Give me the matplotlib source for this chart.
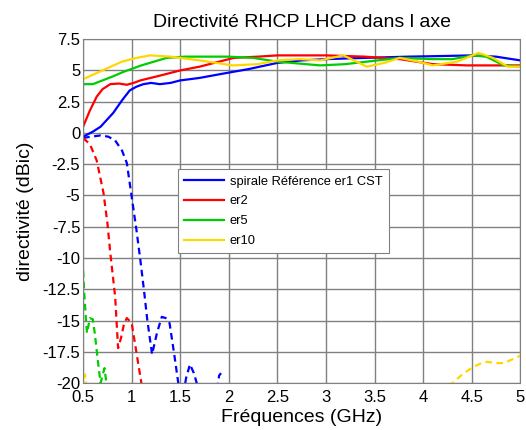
import matplotlib
matplotlib.use('Agg')
import matplotlib.pyplot as plt

plt.rcParams['font.family'] = ['Liberation Sans', 'DejaVu Sans']

# solid curves (RHCP)
f_blue = [0.5, 0.6, 0.68, 0.81, 0.9, 0.98, 1.05, 1.12, 1.2, 1.29, 1.4, 1.5, 1.7, 1.91, 2.2, 2.5, 2.75, 3.0, 3.4, 3.85, 4.2, 4.5, 4.75, 5.0]
d_blue = [-0.3, 0.1, 0.5, 1.6, 2.6, 3.4, 3.7, 3.9, 4.0, 3.9, 4.0, 4.2, 4.4, 4.7, 5.1, 5.6, 5.8, 5.9, 6.0, 6.1, 6.15, 6.2, 6.1, 5.8]

f_red = [0.5, 0.57, 0.64, 0.7, 0.78, 0.87, 0.95, 1.02, 1.09, 1.3, 1.5, 1.7, 1.9, 2.05, 2.3, 2.5, 3.0, 3.4, 3.76, 4.1, 4.45, 5.0]
d_red = [0.5, 1.8, 2.9, 3.5, 3.9, 3.95, 3.85, 4.0, 4.2, 4.6, 5.0, 5.3, 5.7, 6.0, 6.1, 6.2, 6.2, 6.1, 5.9, 5.5, 5.4, 5.4]

f_green = [0.5, 0.6, 0.7, 0.8, 0.92, 1.1, 1.36, 1.55, 2.0, 2.25, 2.5, 2.94, 3.2, 3.42, 3.76, 4.1, 4.3, 4.52, 4.65, 4.83, 5.0]
d_green = [3.9, 3.9, 4.2, 4.5, 4.9, 5.4, 6.0, 6.1, 6.1, 6.0, 5.7, 5.4, 5.5, 5.7, 6.0, 5.9, 5.9, 6.2, 6.1, 5.4, 5.3]

f_yellow = [0.5, 0.7, 0.9, 1.05, 1.19, 1.4, 1.7, 2.04, 2.3, 2.5, 2.73, 2.94, 3.18, 3.42, 3.6, 3.76, 3.95, 4.1, 4.35, 4.57, 4.72, 4.87, 5.0]
d_yellow = [4.3, 5.0, 5.7, 6.0, 6.2, 6.1, 5.8, 5.4, 5.5, 5.8, 5.9, 5.8, 6.2, 5.3, 5.6, 6.0, 5.7, 5.4, 5.7, 6.4, 6.0, 5.3, 5.3]

# dashed curves (LHCP)
fx_blue = [0.5, 0.58, 0.68, 0.76, 0.83, 0.9, 0.95, 1.0, 1.05, 1.09, 1.13, 1.16, 1.21, 1.26, 1.31, 1.35, 1.39, 1.44, 1.48, 1.52, 1.56, 1.6, 1.64, 1.67, 1.72]
dx_blue = [-0.4, -0.3, -0.2, -0.3, -0.6, -1.4, -2.4, -5.1, -7.8, -10.2, -12.8, -14.9, -17.7, -16.0, -14.7, -14.8, -15.2, -17.8, -20.0, -21.5, -19.6, -18.5, -19.2, -20.0, -21.5]
fx_blue2 = [1.88, 1.9, 1.92]
dx_blue2 = [-20.5, -19.4, -19.2]

fx_red = [0.5, 0.57, 0.64, 0.71, 0.75, 0.78, 0.83, 0.86, 0.89, 0.92, 0.95, 1.0, 1.05, 1.1, 1.15]
dx_red = [-0.4, -0.9, -2.2, -4.8, -7.2, -9.6, -13.1, -17.2, -16.4, -15.3, -14.8, -15.2, -17.6, -20.0, -22.0]

fx_green = [0.5, 0.51, 0.53, 0.54, 0.57, 0.6, 0.62, 0.65, 0.68, 0.7, 0.72, 0.74, 0.76]
dx_green = [-11.0, -12.6, -15.0, -16.0, -14.8, -14.9, -16.0, -18.1, -20.0, -19.4, -18.8, -20.0, -21.5]

fx_yellow = [0.5, 0.52, 0.54]
dx_yellow = [-20.5, -19.3, -20.5]
fx_yellow2 = [4.2, 4.3, 4.42, 4.52, 4.6, 4.66, 4.75, 4.83, 4.92, 5.0]
dx_yellow2 = [-21.0, -20.0, -19.2, -18.7, -18.4, -18.3, -18.4, -18.4, -18.1, -17.8]

BLUE = '#0000ff'
RED = '#ff0000'
GREEN = '#00cc00'
YELLOW = '#ffd700'
dash = (0, (3, 2))

fig = plt.figure(figsize=(5.26, 4.30), dpi=100)
ax = fig.add_axes([0.158, 0.109, 0.831, 0.800])

lw = 1.6
ax.plot(f_blue, d_blue, color=BLUE, lw=lw, label='spirale Référence er1 CST')
ax.plot(f_red, d_red, color=RED, lw=lw, label='er2')
ax.plot(f_green, d_green, color=GREEN, lw=lw, label='er5')
ax.plot(f_yellow, d_yellow, color=YELLOW, lw=lw, label='er10')

ax.plot(fx_blue, dx_blue, color=BLUE, lw=lw, ls=dash)
ax.plot(fx_blue2, dx_blue2, color=BLUE, lw=lw, ls=dash)
ax.plot(fx_red, dx_red, color=RED, lw=lw, ls=dash)
ax.plot(fx_green, dx_green, color=GREEN, lw=lw, ls=dash)
ax.plot(fx_yellow, dx_yellow, color=YELLOW, lw=lw, ls=dash)
ax.plot(fx_yellow2, dx_yellow2, color=YELLOW, lw=lw, ls=dash)

ax.set_xlim(0.5, 5)
ax.set_ylim(-20, 7.5)
xt = [0.5, 1, 1.5, 2, 2.5, 3, 3.5, 4, 4.5, 5]
yt = [-20, -17.5, -15, -12.5, -10, -7.5, -5, -2.5, 0, 2.5, 5, 7.5]
ax.set_xticks(xt)
ax.set_xticklabels(['0.5', '1', '1.5', '2', '2.5', '3', '3.5', '4', '4.5', '5'])
ax.set_yticks(yt)
ax.set_yticklabels(['-20', '-17.5', '-15', '-12.5', '-10', '-7.5', '-5', '-2.5', '0', '2.5', '5', '7.5'])
ax.tick_params(labelsize=12, length=0)
ax.tick_params(axis='x', pad=5)
ax.tick_params(axis='y', pad=2)
ax.grid(True, color='#808080', lw=1)
for s in ax.spines.values():
    s.set_color('#808080')

ax.set_title('Directivité RHCP LHCP dans l axe', fontsize=14, pad=9)
ax.set_xlabel('Fréquences (GHz)', fontsize=14, labelpad=3)
ax.set_ylabel('directivité (dBic)', fontsize=14, labelpad=6)

leg = ax.legend(loc='upper left', bbox_to_anchor=(0.217, 0.622), borderaxespad=0,
                prop={'size': 9.3}, fancybox=False, framealpha=1, edgecolor='#808080',
                handlelength=3.1, borderpad=0.5, labelspacing=0.6, handletextpad=0.4)
leg.get_frame().set_linewidth(0.8)

fig.savefig('out.png', dpi=100)
